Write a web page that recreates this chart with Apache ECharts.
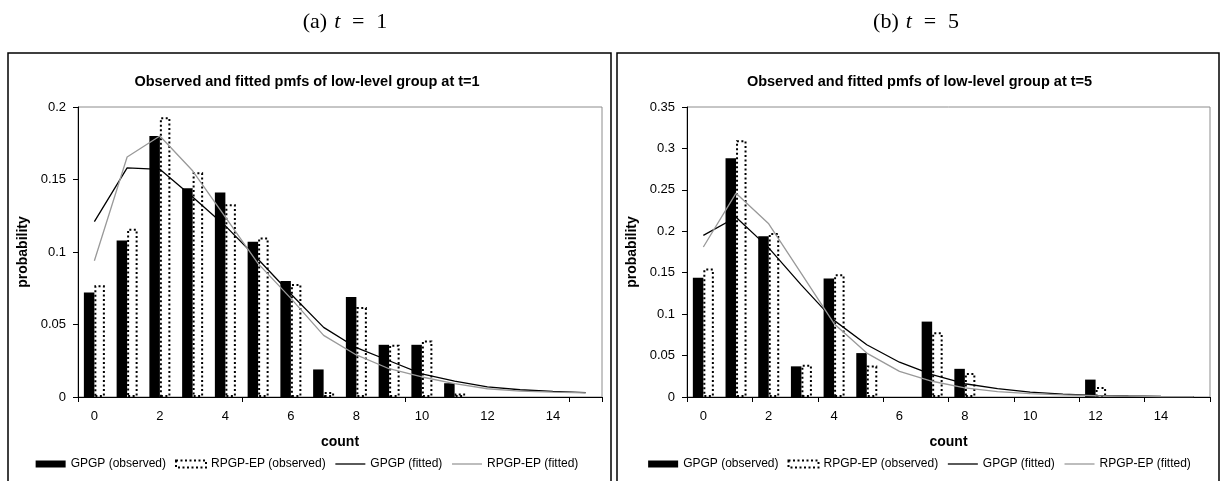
<!DOCTYPE html>
<html><head><meta charset="utf-8">
<script src="https://cdn.jsdelivr.net/npm/echarts/dist/echarts.min.js"></script>
<style>
html,body{margin:0;padding:0;background:#fff;}
#c1{position:absolute;left:0;top:0;width:614px;height:481px;}
#c2{position:absolute;left:614px;top:0;width:611px;height:481px;}
</style></head><body>
<div id="c1"></div><div id="c2"></div>
<script>
const counts = ['0','1','2','3','4','5','6','7','8','9','10','11','12','13','14','15'];

// (a) t = 1
const gpgpObs1 = [0.072, 0.108, 0.180, 0.144, 0.141, 0.107, 0.080, 0.019, 0.069, 0.036, 0.036, 0.0095, 0, 0, 0, 0];
const rpgpObs1 = [0.077, 0.116, 0.193, 0.155, 0.133, 0.110, 0.078, 0.0035, 0.062, 0.036, 0.039, 0.0025, 0, 0, 0, 0];
const gpgpFit1 = [0.121, 0.158, 0.157, 0.138, 0.118, 0.095, 0.071, 0.048, 0.034, 0.025, 0.016, 0.011, 0.007, 0.005, 0.0039, 0.003];
const rpgpFit1 = [0.094, 0.1655, 0.180, 0.156, 0.124, 0.092, 0.068, 0.0425, 0.029, 0.0195, 0.0138, 0.0092, 0.0057, 0.0041, 0.0034, 0.0028];

// (b) t = 5
const gpgpObs5 = [0.144, 0.288, 0.194, 0.037, 0.143, 0.053, 0, 0.091, 0.034, 0, 0, 0, 0.021, 0, 0, 0];
const rpgpObs5 = [0.155, 0.310, 0.198, 0.039, 0.148, 0.038, 0, 0.078, 0.029, 0, 0, 0, 0.012, 0, 0, 0];
const gpgpFit5 = [0.195, 0.217, 0.180, 0.135, 0.0925, 0.063, 0.042, 0.027, 0.016, 0.010, 0.006, 0.0035, 0.002, 0.0012, 0.0007, 0.0004];
const rpgpFit5 = [0.181, 0.246, 0.209, 0.149, 0.0885, 0.053, 0.031, 0.019, 0.011, 0.0065, 0.004, 0.0025, 0.0015, 0.001, 0.0006, 0.0004];

const yMax1 = 0.2, yMax5 = 0.35, yStep = 0.05;
const titles = ['Observed and fitted pmfs of low-level group at t=1', 'Observed and fitted pmfs of low-level group at t=5'];
const captions = [['(a)', '1'], ['(b)', '5']];
const seriesNames = ['GPGP (observed)', 'RPGP-EP (observed)', 'GPGP (fitted)', 'RPGP-EP (fitted)'];

const SANS = 'Liberation Sans, Arial, sans-serif';
const SERIF = 'Liberation Serif, Times New Roman, serif';
const nz = a => a.map(v => v === 0 ? '-' : v);
const dottedStyle = { color: '#fff', borderColor: '#000', borderWidth: 2, borderType: [2, 2.5] };

function makeOption(p) {
  return {
    animation: false,
    backgroundColor: '#fff',
    textStyle: { fontFamily: SANS, color: '#000' },
    graphic: [
      { type: 'rect', shape: { x: p.boxX, y: 53, width: p.boxW, height: 500 },
        style: { fill: 'none', stroke: '#000', lineWidth: 1.5 }, silent: true },
      { type: 'text', x: p.capX, y: 22,
        style: {
          text: '{n|' + p.cap[0] + '}{i|t}{e|=}{n|' + p.cap[1] + '}',
          align: 'center', verticalAlign: 'middle',
          rich: {
            n: { fontFamily: SERIF, fontSize: 22, fill: '#000', color: '#000' },
            i: { fontFamily: SERIF, fontSize: 22, fontStyle: 'italic', fill: '#000', color: '#000', padding: [0, 0, 0, 7] },
            e: { fontFamily: SERIF, fontSize: 22, fill: '#000', color: '#000', width: 36, align: 'center' }
          }
        }, silent: true }
    ],
    title: {
      text: p.title, left: 'center', top: 74, padding: 0,
      textStyle: { fontFamily: SANS, fontSize: 14.5, fontWeight: 'bold', color: '#000' }
    },
    legend: {
      top: 458, left: 'center', padding: 0,
      itemWidth: 30, itemHeight: 7, itemGap: 9,
      textStyle: { fontFamily: SANS, fontSize: 12, color: '#000' },
      data: [
        { name: seriesNames[0], icon: 'rect', itemStyle: { color: '#000' } },
        { name: seriesNames[1], icon: 'rect', itemStyle: dottedStyle },
        { name: seriesNames[2], itemStyle: { opacity: 0 }, lineStyle: { color: '#000', width: 1.3 } },
        { name: seriesNames[3], itemStyle: { opacity: 0 }, lineStyle: { color: '#999', width: 1.3 } }
      ]
    },
    grid: { left: p.gridL, top: 107, width: p.gridW, height: 290, show: true,
            borderColor: '#8c8c8c', borderWidth: 1, containLabel: false, outerBoundsMode: 'none' },
    xAxis: {
      type: 'category', data: counts, boundaryGap: true,
      name: 'count', nameLocation: 'middle', nameGap: 38,
      nameTextStyle: { fontFamily: SANS, fontSize: 14, fontWeight: 'bold', color: '#000' },
      axisLine: { show: true, lineStyle: { color: '#000', width: 1 } },
      axisTick: { show: true, interval: p.tickInt, length: 5, alignWithLabel: false, lineStyle: { color: '#000' } },
      axisLabel: { interval: 1, margin: 13, fontFamily: SANS, fontSize: 13, color: '#000' },
      splitLine: { show: false }
    },
    yAxis: {
      type: 'value', min: 0, max: p.yMax, interval: yStep,
      name: 'probability', nameLocation: 'middle', nameGap: 44, nameRotate: 90,
      nameTextStyle: { fontFamily: SANS, fontSize: 14, fontWeight: 'bold', color: '#000' },
      axisLine: { show: true, lineStyle: { color: '#000', width: 1 } },
      axisTick: { show: true, length: 5, lineStyle: { color: '#000' } },
      axisLabel: { margin: 12, fontFamily: SANS, fontSize: 13, color: '#000' },
      splitLine: { show: false }
    },
    series: [
      { name: seriesNames[0], type: 'bar', data: nz(p.obsA), barWidth: 10.5, barGap: '0%',
        itemStyle: { color: '#000' } },
      { name: seriesNames[1], type: 'bar', data: nz(p.obsB), barWidth: 10.5, barGap: '0%',
        itemStyle: dottedStyle },
      { name: seriesNames[2], type: 'line', data: p.fitA, symbol: 'none', showSymbol: false,
        lineStyle: { color: '#000', width: 1.3 }, itemStyle: { color: '#000' }, z: 5 },
      { name: seriesNames[3], type: 'line', data: p.fitB, symbol: 'none', showSymbol: false,
        lineStyle: { color: '#999', width: 1.3 }, itemStyle: { color: '#999' }, z: 5 }
    ]
  };
}

const c1 = echarts.init(document.getElementById('c1'), null, { renderer: 'canvas' });
c1.setOption(makeOption({
  boxX: 8, boxW: 603, capX: 345, cap: captions[0], title: titles[0],
  gridL: 78, gridW: 524, tickInt: 4, yMax: yMax1,
  obsA: gpgpObs1, obsB: rpgpObs1, fitA: gpgpFit1, fitB: rpgpFit1
}));
const c2 = echarts.init(document.getElementById('c2'), null, { renderer: 'canvas' });
c2.setOption(makeOption({
  boxX: 3, boxW: 602, capX: 302, cap: captions[1], title: titles[1],
  gridL: 73, gridW: 523, tickInt: 1, yMax: yMax5,
  obsA: gpgpObs5, obsB: rpgpObs5, fitA: gpgpFit5, fitB: rpgpFit5
}));
</script>
</body></html>
